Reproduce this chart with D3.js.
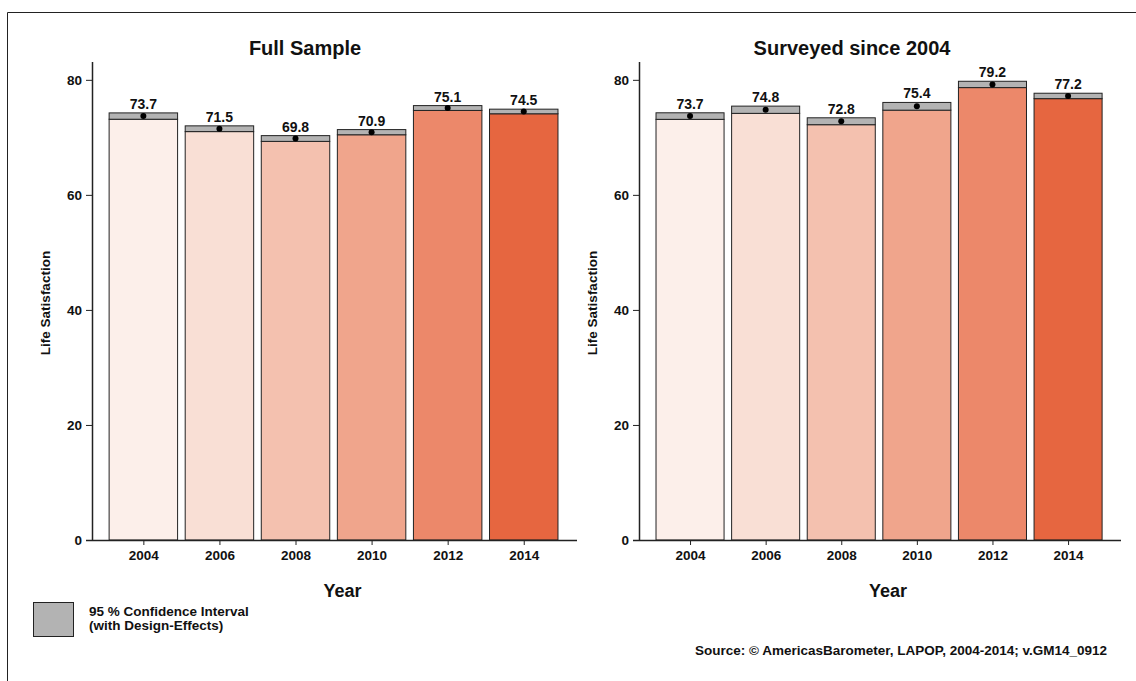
<!DOCTYPE html>
<html>
<head>
<meta charset="utf-8">
<script src="https://cdn.jsdelivr.net/npm/d3@7"></script>
<style>
  body { margin: 0; background: #fff; }
  svg text { font-family: "Liberation Sans", Arial, sans-serif; font-weight: bold; fill: #111; }
</style>
</head>
<body>
<div id="chart"></div>
<script>
const years = [2004, 2006, 2008, 2010, 2012, 2014];
const fullSample = [73.7, 71.5, 69.8, 70.9, 75.1, 74.5];
const fullCI = [0.55, 0.5, 0.5, 0.45, 0.42, 0.4];
const since2004 = [73.7, 74.8, 72.8, 75.4, 79.2, 77.2];
const since2004CI = [0.57, 0.63, 0.6, 0.67, 0.55, 0.47];
const yTicks = [0, 20, 40, 60, 80];
const barColors = ['#fcefea', '#f9dfd5', '#f4c1af', '#f0a58c', '#ec886a', '#e66640'];

const W = 1136, H = 681;
const svg = d3.select('#chart').append('svg')
  .attr('width', W)
  .attr('height', H);

// outer frame (left, top only visible)
svg.append('path')
  .attr('d', 'M' + (W + 1) + ',12.5 H7.5 V' + (H + 1))
  .attr('fill', 'none')
  .attr('stroke', '#222')
  .attr('stroke-width', 1);

const y = d3.scaleLinear().domain([0, 83.1]).range([540, 62]);

function panel(title, values, ci, x0, x1, titleX) {
  const x = d3.scaleLinear().domain([2002.65, 2015.4]).range([x0, x1]);
  const g = svg.append('g');
  const bw = 1.8;

  g.append('text')
    .attr('x', titleX).attr('y', 55)
    .attr('text-anchor', 'middle')
    .style('font-size', '20px')
    .text(title);

  // bars up to lower CI bound
  g.selectAll('.bar')
    .data(values)
    .enter().append('rect')
      .attr('class', 'bar')
      .attr('x', (d, i) => x(years[i] - bw / 2))
      .attr('width', (d, i) => x(years[i] + bw / 2) - x(years[i] - bw / 2))
      .attr('y', (d, i) => y(d - ci[i]))
      .attr('height', (d, i) => y(0) - y(d - ci[i]))
      .attr('fill', (d, i) => barColors[i])
      .attr('stroke', '#222')
      .attr('stroke-width', 1);

  // confidence interval
  g.selectAll('.ci')
    .data(values)
    .enter().append('rect')
      .attr('class', 'ci')
      .attr('x', (d, i) => x(years[i] - bw / 2))
      .attr('width', (d, i) => x(years[i] + bw / 2) - x(years[i] - bw / 2))
      .attr('y', (d, i) => y(d + ci[i]))
      .attr('height', (d, i) => y(d - ci[i]) - y(d + ci[i]))
      .attr('fill', '#b3b3b3')
      .attr('stroke', '#222')
      .attr('stroke-width', 1);

  g.selectAll('.dot')
    .data(values)
    .enter().append('circle')
      .attr('cx', (d, i) => x(years[i]))
      .attr('cy', d => y(d))
      .attr('r', 3)
      .attr('fill', '#000');

  g.selectAll('.val')
    .data(values)
    .enter().append('text')
      .attr('x', (d, i) => x(years[i]))
      .attr('y', (d, i) => y(d + ci[i]) - 4)
      .attr('text-anchor', 'middle')
      .style('font-size', '14px')
      .text(d => d.toFixed(1));

  // axes
  const xa = g.append('g')
    .attr('transform', 'translate(0,' + y(0) + ')')
    .call(d3.axisBottom(x).tickValues(years).tickFormat(d3.format('d')).tickSize(5).tickPadding(5));
  xa.select('.domain').attr('d', 'M' + (x0 - 6) + ',0.5H' + x1).attr('stroke', '#222').attr('stroke-width', 1.5);
  xa.selectAll('.tick line').attr('stroke', '#222');
  xa.selectAll('.tick text').style('font-size', '13.5px').attr('fill', '#111');

  const ya = g.append('g')
    .attr('transform', 'translate(' + x0 + ',0)')
    .call(d3.axisLeft(y).tickValues(yTicks).tickSize(6).tickPadding(4));
  ya.select('.domain').attr('d', 'M0.5,540V62').attr('stroke', '#222').attr('stroke-width', 1.5);
  ya.selectAll('.tick line').attr('stroke', '#222');
  ya.selectAll('.tick text').style('font-size', '13.5px').attr('fill', '#111');

  g.append('text')
    .attr('transform', 'translate(' + (x0 - 42) + ',303) rotate(-90)')
    .attr('text-anchor', 'middle')
    .style('font-size', '13.5px')
    .text('Life Satisfaction');

  g.append('text')
    .attr('x', (x0 + x1) / 2 + 8).attr('y', 597)
    .attr('text-anchor', 'middle')
    .style('font-size', '18px')
    .text('Year');
}

panel('Full Sample', fullSample, fullCI, 92, 577, 305);
panel('Surveyed since 2004', since2004, since2004CI, 639, 1121, 852);

// legend
svg.append('rect')
  .attr('x', 33.5).attr('y', 602.5)
  .attr('width', 40).attr('height', 34)
  .attr('fill', '#b3b3b3')
  .attr('stroke', '#222');
svg.append('text')
  .attr('x', 89).attr('y', 616)
  .style('font-size', '13.5px')
  .text('95 % Confidence Interval');
svg.append('text')
  .attr('x', 89).attr('y', 630)
  .style('font-size', '13.5px')
  .text('(with Design-Effects)');

svg.append('text')
  .attr('x', 1107).attr('y', 655)
  .attr('text-anchor', 'end')
  .style('font-size', '13.5px')
  .text('Source: \u00a9 AmericasBarometer, LAPOP, 2004-2014; v.GM14_0912');
</script>
</body>
</html>
